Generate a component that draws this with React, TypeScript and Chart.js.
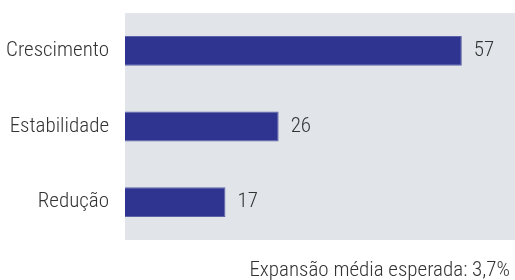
import React, { useEffect, useRef } from "react";
import { Chart, registerables } from "chart.js";

Chart.register(...registerables);

const categories = ["Crescimento", "Estabilidade", "Redução"];
const values = [57, 26, 17];
const footerText = "Expansão média esperada: 3,7%";

const FONT = "'Roboto Condensed', 'DejaVu Sans Condensed', sans-serif";
const FONT_SIZE = 21;
const FONT_WEIGHT = 300;
const TEXT_COLOR = "#333333";
const BAR_COLOR = "#2e3490";
const BG_COLOR = "#e1e5ea";

const bgPlugin = {
  id: "plotBg",
  beforeDraw(chart: any) {
    const { ctx, chartArea } = chart;
    ctx.save();
    ctx.fillStyle = BG_COLOR;
    ctx.fillRect(chartArea.left, chartArea.top, chart.width - chartArea.left, chartArea.bottom - chartArea.top);
    ctx.restore();
  },
};

const valuePlugin = {
  id: "valueLabels",
  afterDatasetsDraw(chart: any) {
    const { ctx } = chart;
    const meta = chart.getDatasetMeta(0);
    ctx.save();
    ctx.font = `${FONT_WEIGHT} ${FONT_SIZE}px ${FONT}`;
    ctx.fillStyle = TEXT_COLOR;
    ctx.textAlign = "left";
    ctx.textBaseline = "middle";
    meta.data.forEach((bar: any, i: number) => {
      ctx.fillText(String(values[i]), bar.x + 12, bar.y);
    });
    ctx.restore();
  },
};

const footerPlugin = {
  id: "footerNote",
  afterDraw(chart: any) {
    const { ctx } = chart;
    ctx.save();
    ctx.font = `${FONT_WEIGHT} ${FONT_SIZE}px ${FONT}`;
    ctx.fillStyle = TEXT_COLOR;
    ctx.textAlign = "right";
    ctx.textBaseline = "alphabetic";
    ctx.fillText(footerText, chart.width - 5, chart.height - 4);
    ctx.restore();
  },
};

export default function App() {
  const ref = useRef<HTMLCanvasElement>(null);
  useEffect(() => {
    if (!ref.current) return;
    const chart = new Chart(ref.current, {
      type: "bar",
      data: {
        labels: categories,
        datasets: [
          {
            data: values,
            backgroundColor: BAR_COLOR,
            borderColor: "#5e63a8",
            borderWidth: 1,
            categoryPercentage: 1,
            barPercentage: 0.395,
          },
        ],
      },
      options: {
        indexAxis: "y",
        animation: false,
        responsive: false,
        maintainAspectRatio: false,
        layout: { padding: { top: 13, bottom: 40, left: 0, right: 0 } },
        plugins: {
          legend: { display: false },
          tooltip: { enabled: false },
          title: { display: false },
        },
        scales: {
          x: {
            display: false,
            min: 0,
            max: 66,
          },
          y: {
            grid: { display: false, drawTicks: false },
            border: { display: false },
            ticks: {
              color: TEXT_COLOR,
              font: { family: FONT, size: FONT_SIZE, weight: FONT_WEIGHT },
              padding: 16,
            },
            afterFit(scale: any) {
              scale.width = 125;
              scale.paddingTop = 0;
              scale.paddingBottom = 0;
            },
          },
        },
      },
      plugins: [bgPlugin, valuePlugin, footerPlugin],
    });
    return () => chart.destroy();
  }, []);
  return (
    <div style={{ position: "fixed", left: 0, top: 0, width: 515, height: 280, background: "#fff" }}>
      <canvas ref={ref} width={515} height={280} style={{ width: 515, height: 280 }} />
    </div>
  );
}
